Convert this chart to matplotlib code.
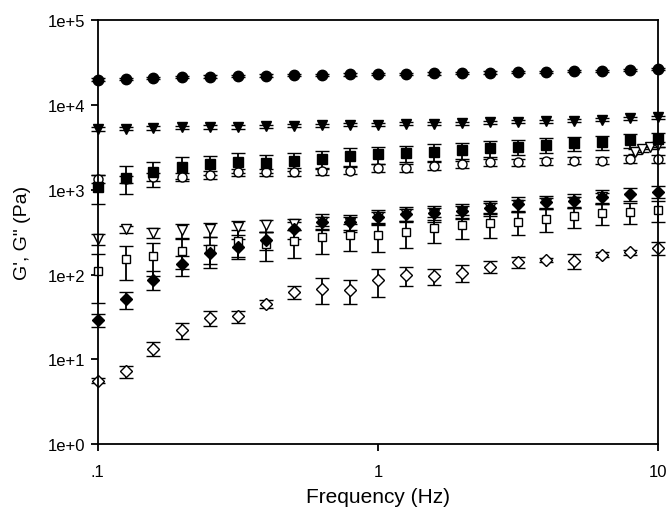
import numpy as np
import matplotlib.pyplot as plt
from matplotlib.ticker import FixedLocator, FixedFormatter, NullLocator

plt.rcParams['font.family'] = ['Liberation Sans', 'DejaVu Sans']

# frequency sweep, 10 points per decade
freq = [0.1, 0.126, 0.158, 0.2, 0.251, 0.316, 0.398, 0.501, 0.631, 0.794,
        1.0, 1.26, 1.58, 2.0, 2.51, 3.16, 3.98, 5.01, 6.31, 7.94, 10.0]

# filled circles
g_circ_f = [19700, 20200, 20800, 21200, 21500, 21800, 22100, 22300, 22600, 22800,
            23000, 23200, 23400, 23700, 24000, 24200, 24500, 24900, 25300, 25800, 26300]
e_circ_f = [700, 700, 700, 700, 700, 700, 700, 700, 700, 700,
            700, 700, 700, 700, 700, 700, 700, 700, 700, 700, 700]

# filled down triangles
g_tri_f = [5200, 5250, 5300, 5400, 5450, 5500, 5600, 5650, 5700, 5800, 5850,
           5950, 6000, 6100, 6200, 6300, 6400, 6500, 6700, 6900, 7100]
e_tri_f = [250, 250, 250, 250, 250, 250, 250, 250, 250, 250, 250,
           250, 250, 250, 250, 250, 250, 250, 250, 250, 250]

# filled squares
g_sq_f = [1080, 1380, 1600, 1870, 2000, 2130, 2050, 2180, 2300, 2500, 2600,
          2700, 2800, 2900, 3100, 3200, 3400, 3500, 3600, 3800, 3900]
e_sq_f = [400, 500, 520, 550, 520, 550, 480, 520, 550, 600, 600,
          600, 620, 620, 650, 650, 680, 680, 700, 700, 700]

# open circles
g_circ_o = [1350, 1320, 1400, 1400, 1500, 1600, 1600, 1620, 1650, 1680, 1800,
            1800, 1900, 2000, 2100, 2100, 2150, 2200, 2200, 2300, 2300]
e_circ_o = [150, 120, 150, 150, 150, 160, 160, 160, 170, 170, 180,
            180, 190, 200, 210, 210, 210, 220, 220, 230, 230]

# open down triangles (mostly hidden under the filled diamonds, last points crowd toward 10 Hz)
f_tri_o = [0.1, 0.126, 0.158, 0.2, 0.251, 0.316, 0.398, 0.501, 0.631, 0.794,
           1.0, 1.26, 1.58, 2.0, 2.51, 3.16, 3.98, 5.01, 6.31, 8.3, 8.8, 9.4, 10.0]
g_tri_o = [260, 340, 310, 330, 340, 360, 380, 390, 410, 400, 470,
           510, 520, 550, 600, 660, 700, 720, 810, 2800, 3000, 3200, 3400]
e_tri_o = [40, 30, 40, 60, 60, 70, 60, 60, 70, 70, 80,
           80, 80, 90, 90, 100, 100, 110, 110, 200, 200, 200, 200]

# filled diamonds
g_dia_f = [28.8, 51, 87, 132, 177, 209, 253, 340, 420, 410, 480,
           520, 530, 560, 610, 680, 720, 740, 830, 890, 950]
e_dia_f = [5, 12, 22, 35, 45, 55, 60, 80, 90, 90, 100,
           100, 110, 110, 120, 130, 130, 140, 150, 150, 160]

# open squares
g_sq_o = [111, 152, 167, 190, 200, 245, 230, 245, 275, 290, 295,
          315, 355, 380, 400, 420, 455, 490, 535, 540, 580]
e_sq_o = [65, 67, 70, 75, 80, 85, 85, 90, 100, 100, 110,
          110, 120, 120, 130, 130, 140, 140, 150, 150, 160]

# open diamonds
g_dia_o = [5.6, 7.2, 13.4, 22, 31, 32, 45, 62, 68, 66, 85,
           98, 96, 105, 124, 141, 150, 145, 172, 182, 204]
e_dia_o = [0.4, 1.1, 2.5, 4.5, 6, 5, 5, 11, 23, 21, 30,
           24, 21, 23, 21, 21, 8, 30, 12, 12, 35]

fig = plt.figure(figsize=(6.7, 5.1), dpi=100)
ax = fig.add_axes([0.146, 0.127, 0.836, 0.832])

series = [
    (freq, g_circ_o, e_circ_o, 'o', 'white', 6.5),
    (f_tri_o, g_tri_o, e_tri_o, 'v', 'white', 6.5),
    (freq, g_sq_o, e_sq_o, 's', 'white', 6),
    (freq, g_dia_o, e_dia_o, 'D', 'white', 6),
    (freq, g_dia_f, e_dia_f, 'D', 'black', 6),
    (freq, g_sq_f, e_sq_f, 's', 'black', 6.5),
    (freq, g_tri_f, e_tri_f, 'v', 'black', 7.5),
    (freq, g_circ_f, e_circ_f, 'o', 'black', 7.5),
]

for x, y, e, m, fc, ms in series:
    ax.errorbar(x, y, yerr=e, fmt=m, mfc=fc, mec='black', mew=1.0, ms=ms,
                ecolor='black', elinewidth=1.3, capsize=5, capthick=1.3,
                clip_on=False)

ax.set_xscale('log')
ax.set_yscale('log')
ax.set_xlim(0.1, 10)
ax.set_ylim(1, 1e5)

ax.xaxis.set_major_locator(FixedLocator([0.1, 1, 10]))
ax.xaxis.set_major_formatter(FixedFormatter(['.1', '1', '10']))
ax.xaxis.set_minor_locator(NullLocator())
ax.yaxis.set_major_locator(FixedLocator([1, 10, 100, 1e3, 1e4, 1e5]))
ax.yaxis.set_major_formatter(FixedFormatter(['1e+0', '1e+1', '1e+2', '1e+3', '1e+4', '1e+5']))
ax.yaxis.set_minor_locator(NullLocator())

for s in ax.spines.values():
    s.set_linewidth(1.3)
ax.tick_params(direction='out', length=5, width=1.3, labelsize=12, pad=4)
ax.tick_params(axis='x', pad=9)

ax.set_xlabel('Frequency (Hz)', fontsize=15, labelpad=6)
ax.set_ylabel('G\', G" (Pa)', fontsize=14, labelpad=12)

fig.savefig('out.png', dpi=100)
